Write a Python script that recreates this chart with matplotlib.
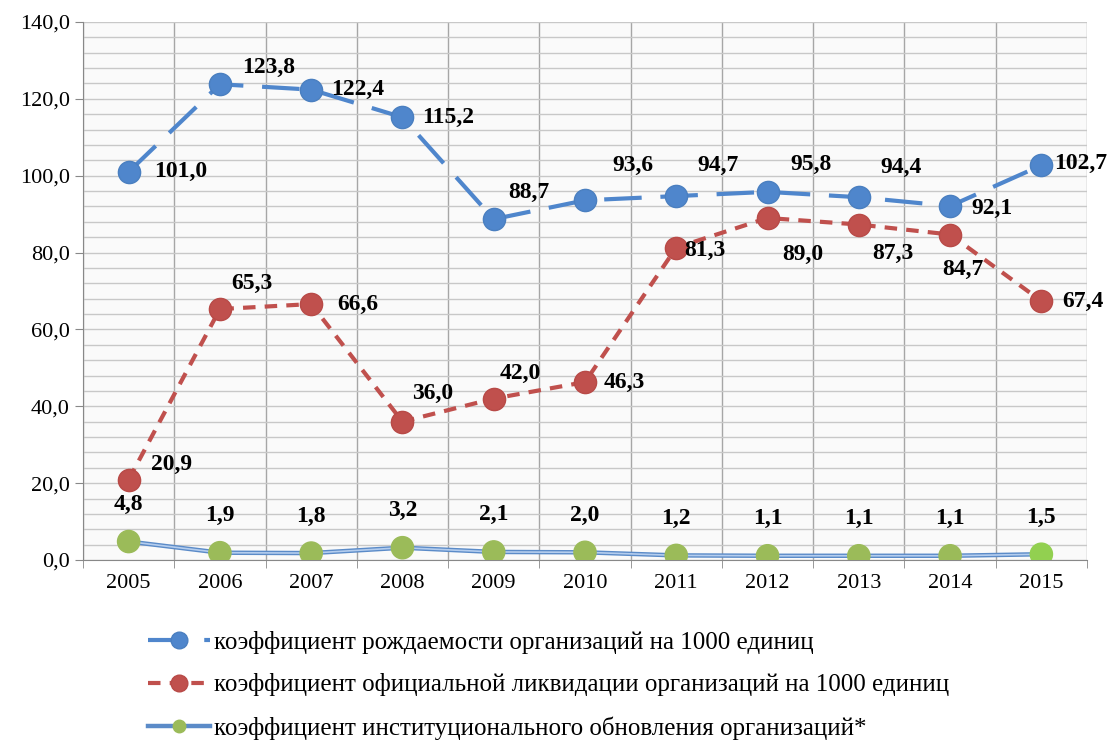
import numpy as np
import matplotlib.pyplot as plt
from matplotlib.ticker import MultipleLocator, FixedLocator

years = ['2005', '2006', '2007', '2008', '2009', '2010', '2011', '2012', '2013', '2014', '2015']
birth = [101.0, 123.8, 122.4, 115.2, 88.7, 93.6, 94.7, 95.8, 94.4, 92.1, 102.7]
liquid = [20.9, 65.3, 66.6, 36.0, 42.0, 46.3, 81.3, 89.0, 87.3, 84.7, 67.4]
renew = [4.8, 1.9, 1.8, 3.2, 2.1, 2.0, 1.2, 1.1, 1.1, 1.1, 1.5]

names = ['коэффициент рождаемости организаций на 1000 единиц',
         'коэффициент официальной ликвидации организаций на 1000 единиц',
         'коэффициент институционального обновления организаций*']

# label offsets in pixels (dx, dy), dy up
birth_off = [(52, 0), (49, 17), (47, 0), (46, 0), (35, 27), (48, 35), (42, 31),
             (43, 27), (42, 30), (42, -2), (39, 2)]
liquid_off = [(43, 15), (32, 26), (47, 0), (30, 28), (27, 25), (39, 0), (29, -3),
              (35, -36), (34, -29), (13, -35), (42, 0)]

plt.rcParams['font.family'] = ['Liberation Serif', 'DejaVu Serif']

fig = plt.figure(figsize=(11.09, 7.40), dpi=100)
ax = fig.add_axes([83 / 1109, 1 - 560 / 740, (1087 - 83) / 1109, (560 - 22) / 740])
ax.set_facecolor('#fafafa')

x = np.arange(len(years))
blue = '#4f86cc'
red = '#c0504d'
green = '#9bbb59'

ax.plot(x, birth, color=blue, lw=3, linestyle=(0, (9, 4.5)), marker='o', ms=16,
        markerfacecolor=blue, markeredgecolor='#4a7fc0', label=names[0], zorder=4)
ax.plot(x, liquid, color=red, lw=3, linestyle=(0, (3, 2.2)), marker='o', ms=16,
        markerfacecolor=red, markeredgecolor='#b84a47', label=names[1], zorder=4)
ax.plot(x, renew, color='#5b8bc8', lw=3.2, zorder=3)
ax.plot(x, renew, color='#b4cdee', lw=1.2, zorder=3)
gcol = [green] * (len(x) - 1) + ['#92d050']
ax.scatter(x, renew, s=16 ** 2, c=gcol, zorder=5)
ax.plot([], [], color='#5b8bc8', lw=3.2, marker='o', ms=12, markerfacecolor=green,
        markeredgecolor=green, label=names[2])

fmt = lambda v: f'{v:.1f}'.replace('.', ',')
for i in range(len(x)):
    ax.annotate(fmt(birth[i]), (x[i], birth[i]), xytext=birth_off[i], textcoords='offset pixels',
                ha='center', va='center', fontsize=17, fontweight='bold', zorder=6)
    ax.annotate(fmt(liquid[i]), (x[i], liquid[i]), xytext=liquid_off[i], textcoords='offset pixels',
                ha='center', va='center', fontsize=17, fontweight='bold', zorder=6)
    ax.annotate(fmt(renew[i]), (x[i], renew[i]), xytext=(0, 37), textcoords='offset pixels',
                ha='center', va='center', fontsize=17, fontweight='bold', zorder=6)

ax.set_xlim(-0.5, len(years) - 0.5)
ax.set_ylim(0, 140)
ax.yaxis.set_major_locator(MultipleLocator(20))
ax.yaxis.set_minor_locator(MultipleLocator(4))
ax.set_yticklabels([fmt(v) for v in ax.get_yticks()])
ax.set_xticks(x)
ax.set_xticklabels(years)
ax.xaxis.set_minor_locator(FixedLocator(np.arange(-0.5, len(years), 1)))
ax.tick_params(axis='x', which='major', length=0, labelsize=16, pad=10)
ax.tick_params(axis='x', which='minor', length=6, color='#888888')
ax.tick_params(axis='y', which='major', length=6, labelsize=16, color='#888888')
ax.tick_params(axis='y', which='minor', length=0)
ax.grid(axis='y', which='both', color='#c8c8c8', lw=1)
ax.grid(axis='x', which='minor', color='#a6a6a6', lw=1)
ax.grid(axis='x', which='major', visible=False)
ax.set_axisbelow(True)
for s in ['top', 'right']:
    ax.spines[s].set_visible(False)
ax.spines['left'].set_color('#888888')
ax.spines['bottom'].set_color('#888888')

fig.legend(loc='upper left', bbox_to_anchor=(125 / 1109, 1 - 608 / 740), frameon=False,
           fontsize=18, handlelength=2.5, labelspacing=0.8, handletextpad=0.15,
           markerscale=0.75)

fig.savefig('out.png', dpi=100, facecolor='white')
